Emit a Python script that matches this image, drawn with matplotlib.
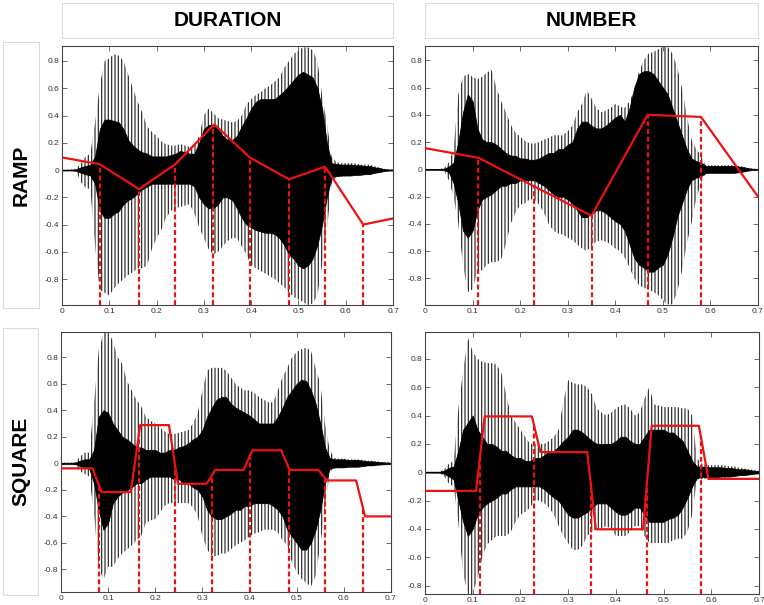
import numpy as np
import matplotlib
matplotlib.use("Agg")
import matplotlib.pyplot as plt
from matplotlib.patches import Rectangle
from matplotlib.ticker import FuncFormatter, MultipleLocator

plt.rcParams['font.family'] = ['Liberation Sans', 'DejaVu Sans']
plt.rcParams['hatch.linewidth'] = 0.85

# ---------------- data ----------------
# sampling grid of the envelope readings (seconds)
TIME = np.round(np.linspace(0.0, 0.70, 71), 2)

COLS = ["DURATION", "NUMBER"]
ROWS = ["RAMP", "SQUARE"]

# --- RAMP / DURATION waveform envelopes ---
rd_spk_hi = [0, 0, 0.005, 0.01, 0.05, 0.10, 0.12, 0.35, 0.62, 0.80, 0.82, 0.85, 0.84, 0.80, 0.70, 0.60, 0.50, 0.42, 0.32, 0.28,
             0.25, 0.21, 0.19, 0.18, 0.18, 0.19, 0.18, 0.17, 0.18, 0.25, 0.40, 0.45, 0.42, 0.38, 0.37, 0.36, 0.35, 0.36, 0.40, 0.48,
             0.52, 0.55, 0.57, 0.60, 0.62, 0.65, 0.68, 0.75, 0.80, 0.85, 0.88, 0.90, 0.90, 0.88, 0.80, 0.55, 0.35, 0.10, 0.06, 0.05,
             0.05, 0.05, 0.05, 0.04, 0.04, 0.04, 0.03, 0.02, 0.01, 0.005, 0.003]
rd_spk_lo = [0, 0, -0.005, -0.01, -0.09, -0.13, -0.14, -0.56, -0.88, -0.90, -0.92, -0.87, -0.83, -0.80, -0.77, -0.75, -0.72, -0.72, -0.70, -0.58,
             -0.50, -0.44, -0.35, -0.30, -0.28, -0.27, -0.26, -0.25, -0.32, -0.42, -0.50, -0.58, -0.62, -0.60, -0.56, -0.52, -0.50, -0.50, -0.56, -0.62,
             -0.70, -0.72, -0.74, -0.76, -0.78, -0.80, -0.83, -0.86, -0.90, -0.93, -0.95, -0.97, -0.99, -0.98, -0.92, -0.70, -0.45, -0.10, -0.05, -0.05,
             -0.045, -0.045, -0.04, -0.04, -0.035, -0.03, -0.03, -0.02, -0.01, -0.005, -0.003]
rd_core_hi = [0.003, 0.003, 0.003, 0.005, 0.02, 0.03, 0.04, 0.10, 0.30, 0.37, 0.37, 0.36, 0.35, 0.30, 0.22, 0.18, 0.15, 0.13, 0.12, 0.10,
              0.10, 0.10, 0.10, 0.11, 0.12, 0.14, 0.13, 0.12, 0.12, 0.20, 0.30, 0.33, 0.33, 0.30, 0.25, 0.22, 0.22, 0.25, 0.32, 0.38,
              0.45, 0.50, 0.52, 0.52, 0.52, 0.52, 0.55, 0.58, 0.62, 0.66, 0.70, 0.72, 0.70, 0.68, 0.60, 0.45, 0.20, 0.05, 0.045, 0.04,
              0.04, 0.04, 0.035, 0.035, 0.03, 0.03, 0.02, 0.015, 0.008, 0.004, 0.003]
rd_core_lo = [-0.003, -0.003, -0.003, -0.005, -0.02, -0.03, -0.04, -0.10, -0.30, -0.35, -0.35, -0.32, -0.30, -0.25, -0.22, -0.20, -0.17, -0.14, -0.12, -0.10,
              -0.10, -0.10, -0.10, -0.10, -0.10, -0.10, -0.10, -0.10, -0.12, -0.20, -0.25, -0.28, -0.28, -0.25, -0.20, -0.20, -0.22, -0.28, -0.35, -0.40,
              -0.42, -0.44, -0.45, -0.46, -0.46, -0.47, -0.50, -0.55, -0.62, -0.65, -0.70, -0.72, -0.70, -0.65, -0.55, -0.40, -0.20, -0.05, -0.045, -0.04,
              -0.04, -0.04, -0.035, -0.035, -0.03, -0.03, -0.02, -0.015, -0.008, -0.004, -0.003]

# --- RAMP / NUMBER waveform envelopes ---
rn_spk_hi = [0, 0, 0, 0.003, 0.01, 0.05, 0.15, 0.55, 0.68, 0.70, 0.68, 0.66, 0.68, 0.71, 0.73, 0.60, 0.50, 0.42, 0.33, 0.27,
             0.24, 0.21, 0.19, 0.19, 0.20, 0.22, 0.23, 0.25, 0.25, 0.25, 0.28, 0.32, 0.42, 0.48, 0.58, 0.52, 0.45, 0.42, 0.43, 0.45,
             0.48, 0.46, 0.45, 0.50, 0.58, 0.72, 0.80, 0.85, 0.86, 0.88, 0.90, 0.90, 0.85, 0.75, 0.60, 0.40, 0.22, 0.15, 0.10, 0.03,
             0.03, 0.03, 0.03, 0.03, 0.03, 0.03, 0.025, 0.02, 0.01, 0.005, 0.003]
rn_spk_lo = [0, 0, 0, -0.003, -0.01, -0.08, -0.20, -0.40, -0.70, -0.90, -0.88, -0.75, -0.74, -0.70, -0.68, -0.68, -0.66, -0.55, -0.40, -0.32,
             -0.26, -0.25, -0.22, -0.22, -0.26, -0.32, -0.40, -0.45, -0.47, -0.48, -0.50, -0.52, -0.55, -0.58, -0.60, -0.56, -0.53, -0.52, -0.53, -0.55,
             -0.58, -0.60, -0.65, -0.72, -0.80, -0.85, -0.87, -0.88, -0.90, -0.92, -0.96, -0.99, -0.99, -0.90, -0.75, -0.55, -0.40, -0.22, -0.10, -0.03,
             -0.03, -0.03, -0.03, -0.03, -0.03, -0.03, -0.025, -0.02, -0.01, -0.005, -0.003]
rn_core_hi = [0.003, 0.003, 0.003, 0.003, 0.005, 0.02, 0.05, 0.20, 0.42, 0.55, 0.50, 0.30, 0.22, 0.20, 0.20, 0.18, 0.15, 0.12, 0.10, 0.10,
              0.08, 0.08, 0.07, 0.07, 0.08, 0.10, 0.12, 0.12, 0.15, 0.15, 0.18, 0.20, 0.30, 0.35, 0.35, 0.32, 0.30, 0.30, 0.32, 0.35,
              0.38, 0.40, 0.35, 0.45, 0.60, 0.70, 0.72, 0.72, 0.70, 0.65, 0.60, 0.55, 0.45, 0.35, 0.25, 0.15, 0.08, 0.06, 0.05, 0.025,
              0.025, 0.025, 0.025, 0.025, 0.025, 0.025, 0.02, 0.015, 0.008, 0.004, 0.003]
rn_core_lo = [-0.003, -0.003, -0.003, -0.003, -0.005, -0.02, -0.10, -0.25, -0.45, -0.50, -0.45, -0.30, -0.22, -0.20, -0.18, -0.15, -0.12, -0.12, -0.10, -0.10,
              -0.08, -0.08, -0.08, -0.08, -0.10, -0.12, -0.15, -0.18, -0.20, -0.20, -0.22, -0.25, -0.30, -0.35, -0.35, -0.32, -0.30, -0.30, -0.32, -0.35,
              -0.38, -0.40, -0.45, -0.55, -0.65, -0.70, -0.72, -0.75, -0.75, -0.72, -0.70, -0.62, -0.50, -0.35, -0.25, -0.15, -0.08, -0.06, -0.05, -0.025,
              -0.025, -0.025, -0.025, -0.025, -0.025, -0.025, -0.02, -0.015, -0.008, -0.004, -0.003]

# --- SQUARE / DURATION waveform envelopes ---
sd_spk_hi = [0.005, 0.005, 0.005, 0.008, 0.05, 0.08, 0.08, 0.45, 0.85, 0.98, 1.00, 0.92, 0.80, 0.75, 0.62, 0.55, 0.48, 0.43, 0.35, 0.32,
             0.30, 0.27, 0.24, 0.22, 0.22, 0.23, 0.24, 0.25, 0.30, 0.38, 0.55, 0.70, 0.72, 0.72, 0.72, 0.70, 0.65, 0.60, 0.57, 0.55,
             0.55, 0.53, 0.50, 0.48, 0.46, 0.46, 0.55, 0.65, 0.72, 0.80, 0.84, 0.86, 0.87, 0.85, 0.72, 0.60, 0.30, 0.10, 0.04, 0.035,
             0.035, 0.03, 0.03, 0.03, 0.025, 0.02, 0.02, 0.015, 0.01, 0.008, 0.005]
sd_spk_lo = [-0.005, -0.005, -0.005, -0.008, -0.06, -0.08, -0.10, -0.38, -0.78, -0.88, -0.78, -0.78, -0.72, -0.68, -0.65, -0.62, -0.58, -0.55, -0.45, -0.43,
             -0.42, -0.37, -0.32, -0.30, -0.30, -0.30, -0.30, -0.30, -0.33, -0.40, -0.55, -0.65, -0.70, -0.70, -0.68, -0.68, -0.65, -0.62, -0.60, -0.58,
             -0.55, -0.53, -0.52, -0.50, -0.50, -0.50, -0.52, -0.58, -0.62, -0.75, -0.82, -0.87, -0.90, -0.93, -0.85, -0.62, -0.35, -0.06, -0.04, -0.035,
             -0.035, -0.03, -0.03, -0.03, -0.025, -0.02, -0.02, -0.015, -0.01, -0.008, -0.005]
sd_core_hi = [0.004, 0.004, 0.004, 0.005, 0.02, 0.03, 0.03, 0.10, 0.35, 0.40, 0.38, 0.30, 0.25, 0.20, 0.18, 0.15, 0.12, 0.12, 0.10, 0.10,
              0.10, 0.08, 0.08, 0.10, 0.10, 0.12, 0.13, 0.15, 0.18, 0.20, 0.25, 0.35, 0.42, 0.48, 0.50, 0.50, 0.45, 0.42, 0.40, 0.38,
              0.36, 0.33, 0.30, 0.30, 0.30, 0.30, 0.35, 0.42, 0.50, 0.55, 0.60, 0.63, 0.62, 0.55, 0.45, 0.30, 0.12, 0.04, 0.03, 0.03,
              0.03, 0.025, 0.025, 0.025, 0.02, 0.015, 0.015, 0.01, 0.008, 0.006, 0.004]
sd_core_lo = [-0.004, -0.004, -0.004, -0.005, -0.02, -0.03, -0.04, -0.15, -0.35, -0.50, -0.45, -0.30, -0.25, -0.22, -0.20, -0.18, -0.15, -0.15, -0.12, -0.10,
              -0.10, -0.10, -0.10, -0.10, -0.12, -0.12, -0.15, -0.15, -0.18, -0.20, -0.25, -0.35, -0.40, -0.42, -0.42, -0.40, -0.38, -0.35, -0.35, -0.32,
              -0.32, -0.30, -0.30, -0.30, -0.30, -0.32, -0.35, -0.40, -0.50, -0.55, -0.60, -0.65, -0.65, -0.60, -0.50, -0.35, -0.15, -0.04, -0.03, -0.03,
              -0.03, -0.025, -0.025, -0.025, -0.02, -0.015, -0.015, -0.01, -0.008, -0.006, -0.004]

# --- SQUARE / NUMBER waveform envelopes ---
sn_spk_hi = [0.003, 0.003, 0.003, 0.003, 0.02, 0.06, 0.08, 0.45, 0.72, 0.95, 0.85, 0.80, 0.78, 0.77, 0.77, 0.76, 0.70, 0.55, 0.40, 0.35,
             0.30, 0.25, 0.20, 0.20, 0.20, 0.20, 0.22, 0.25, 0.30, 0.50, 0.65, 0.63, 0.62, 0.62, 0.60, 0.55, 0.45, 0.42, 0.40, 0.42,
             0.45, 0.47, 0.48, 0.45, 0.40, 0.42, 0.52, 0.60, 0.48, 0.47, 0.46, 0.46, 0.46, 0.46, 0.45, 0.45, 0.40, 0.10, 0.06, 0.05,
             0.05, 0.05, 0.05, 0.045, 0.04, 0.04, 0.03, 0.025, 0.02, 0.015, 0.01]
sn_spk_lo = [-0.003, -0.003, -0.003, -0.003, -0.03, -0.08, -0.10, -0.36, -0.72, -0.86, -0.86, -0.75, -0.60, -0.51, -0.48, -0.45, -0.45, -0.45, -0.42, -0.35,
             -0.30, -0.28, -0.25, -0.20, -0.20, -0.22, -0.25, -0.30, -0.38, -0.45, -0.50, -0.55, -0.55, -0.52, -0.45, -0.42, -0.40, -0.40, -0.38, -0.40,
             -0.45, -0.45, -0.45, -0.42, -0.38, -0.38, -0.45, -0.50, -0.50, -0.50, -0.50, -0.50, -0.48, -0.47, -0.47, -0.42, -0.30, -0.05, -0.05, -0.045,
             -0.045, -0.045, -0.04, -0.04, -0.035, -0.03, -0.025, -0.02, -0.02, -0.015, -0.01]
sn_core_hi = [0.003, 0.003, 0.003, 0.003, 0.01, 0.03, 0.04, 0.15, 0.30, 0.35, 0.40, 0.30, 0.25, 0.20, 0.20, 0.18, 0.15, 0.15, 0.12, 0.10,
              0.10, 0.08, 0.08, 0.10, 0.10, 0.12, 0.15, 0.15, 0.18, 0.22, 0.25, 0.30, 0.30, 0.28, 0.25, 0.22, 0.20, 0.20, 0.20, 0.20,
              0.22, 0.25, 0.25, 0.22, 0.20, 0.20, 0.25, 0.30, 0.30, 0.30, 0.30, 0.28, 0.28, 0.25, 0.22, 0.15, 0.08, 0.04, 0.04, 0.035,
              0.035, 0.035, 0.035, 0.03, 0.03, 0.025, 0.02, 0.02, 0.015, 0.01, 0.008]
sn_core_lo = [-0.003, -0.003, -0.003, -0.003, -0.01, -0.03, -0.05, -0.20, -0.35, -0.45, -0.40, -0.30, -0.25, -0.22, -0.20, -0.18, -0.15, -0.15, -0.12, -0.10,
              -0.10, -0.10, -0.10, -0.10, -0.10, -0.12, -0.15, -0.18, -0.20, -0.25, -0.30, -0.32, -0.32, -0.30, -0.28, -0.25, -0.22, -0.22, -0.22, -0.25,
              -0.28, -0.30, -0.30, -0.28, -0.25, -0.25, -0.30, -0.35, -0.35, -0.35, -0.35, -0.33, -0.32, -0.30, -0.25, -0.18, -0.10, -0.04, -0.035, -0.035,
              -0.035, -0.035, -0.03, -0.03, -0.03, -0.025, -0.02, -0.02, -0.015, -0.01, -0.008]

# --- red manipulated contours (time, value) and segment markers ---
rd_ctr_t = [0.0, 0.08, 0.163, 0.24, 0.322, 0.397, 0.48, 0.556, 0.567, 0.637, 0.70]
rd_ctr_v = [0.093, 0.042, -0.14, 0.044, 0.335, 0.093, -0.068, 0.024, -0.03, -0.40, -0.355]
rd_marks = [0.08, 0.163, 0.24, 0.32, 0.397, 0.48, 0.556, 0.637]

rn_ctr_t = [0.0, 0.112, 0.35, 0.468, 0.58, 0.70]
rn_ctr_v = [0.156, 0.085, -0.34, 0.40, 0.385, -0.20]
rn_marks = [0.112, 0.23, 0.35, 0.468, 0.58]

sd_ctr_t = [0.0, 0.067, 0.086, 0.148, 0.168, 0.229, 0.248, 0.309, 0.327, 0.387, 0.406, 0.467, 0.485, 0.546, 0.564, 0.626, 0.645, 0.70]
sd_ctr_v = [-0.038, -0.038, -0.217, -0.217, 0.288, 0.288, -0.154, -0.154, -0.05, -0.05, 0.098, 0.098, -0.05, -0.05, -0.129, -0.129, -0.40, -0.40]
sd_marks = [0.081, 0.165, 0.242, 0.32, 0.40, 0.483, 0.561, 0.64]

sn_ctr_t = [0.0, 0.107, 0.125, 0.224, 0.242, 0.340, 0.358, 0.457, 0.475, 0.574, 0.594, 0.70]
sn_ctr_v = [-0.132, -0.132, 0.394, 0.394, 0.142, 0.142, -0.403, -0.403, 0.328, 0.328, -0.047, -0.047]
sn_marks = [0.116, 0.228, 0.347, 0.466, 0.578]

# ---------------- layout ----------------
W, H = 764, 605
fig = plt.figure(figsize=(W / 100, H / 100), dpi=100)


def px_rect(l, t, r, b):
    return [l / W, 1 - b / H, (r - l) / W, (b - t) / H]


panels = [
    dict(rect=px_rect(62, 46, 393, 305), ylim=(-0.99, 0.91),
         env=(rd_spk_hi, rd_spk_lo, rd_core_hi, rd_core_lo), ctr=(rd_ctr_t, rd_ctr_v), marks=rd_marks),
    dict(rect=px_rect(425, 46, 758, 305), ylim=(-0.995, 0.905),
         env=(rn_spk_hi, rn_spk_lo, rn_core_hi, rn_core_lo), ctr=(rn_ctr_t, rn_ctr_v), marks=rn_marks),
    dict(rect=px_rect(61, 332, 391, 592), ylim=(-0.97, 0.99),
         env=(sd_spk_hi, sd_spk_lo, sd_core_hi, sd_core_lo), ctr=(sd_ctr_t, sd_ctr_v), marks=sd_marks),
    dict(rect=px_rect(425, 332, 759, 594), ylim=(-0.86, 0.99),
         env=(sn_spk_hi, sn_spk_lo, sn_core_hi, sn_core_lo), ctr=(sn_ctr_t, sn_ctr_v), marks=sn_marks),
]

RED = '#ee1111'
fmt = FuncFormatter(lambda v, p: ('%g' % round(v, 2)))

for p in panels:
    ax = fig.add_axes(p['rect'])
    spk_hi, spk_lo, core_hi, core_lo = [np.asarray(a) for a in p['env']]
    # spikes (pitch pulses) rendered as vertical-line texture
    ax.fill_between(TIME, spk_lo, spk_hi, facecolor='none', edgecolor='#262626',
                    hatch='|||||', linewidth=0, zorder=1)
    # dense core of the waveform
    ax.fill_between(TIME, core_lo, core_hi, facecolor='black', edgecolor='black',
                    linewidth=0.6, zorder=2)
    ct, cv = p['ctr']
    ax.plot(ct, cv, color=RED, lw=1.6, zorder=4)
    y0 = p['ylim'][0]
    tops = np.interp(p['marks'], ct, cv)
    ax.vlines(p['marks'], y0, tops, colors=RED, linestyles=(0, (2.2, 1.3)), lw=1.6, zorder=3)

    ax.set_xlim(0, 0.7)
    ax.set_ylim(*p['ylim'])
    ax.xaxis.set_major_locator(MultipleLocator(0.1))
    ax.yaxis.set_major_locator(MultipleLocator(0.2))
    ax.xaxis.set_major_formatter(fmt)
    ax.yaxis.set_major_formatter(fmt)
    ax.tick_params(direction='in', length=3.5, width=0.6, color='#555555',
                   labelsize=6, labelcolor='#333333', pad=2,
                   top=True, right=True)
    for s in ax.spines.values():
        s.set_color('#444444')
        s.set_linewidth(0.8)

# header boxes
BOX_EC = '#dcdcdc'
for (l, t, r, b), txt in [((62, 3, 393, 38), COLS[0]), ((425, 3, 758, 38), COLS[1])]:
    fig.patches.append(Rectangle((l / W, 1 - b / H), (r - l) / W, (b - t) / H,
                                 transform=fig.transFigure, facecolor='white',
                                 edgecolor=BOX_EC, linewidth=0.8))
    fig.text((l + r) / 2 / W, 1 - (t + b) / 2 / H, txt, ha='center', va='center',
             fontsize=15, fontweight='bold', color='black')

for (l, t, r, b), txt in [((3, 42, 39, 308), ROWS[0]), ((3, 328, 38, 595), ROWS[1])]:
    fig.patches.append(Rectangle((l / W, 1 - b / H), (r - l) / W, (b - t) / H,
                                 transform=fig.transFigure, facecolor='white',
                                 edgecolor=BOX_EC, linewidth=0.8))
    fig.text((l + r) / 2 / W, 1 - (t + b) / 2 / H, txt, ha='center', va='center',
             rotation=90, fontsize=15, fontweight='bold', color='black')

fig.savefig('out.png', dpi=100)
